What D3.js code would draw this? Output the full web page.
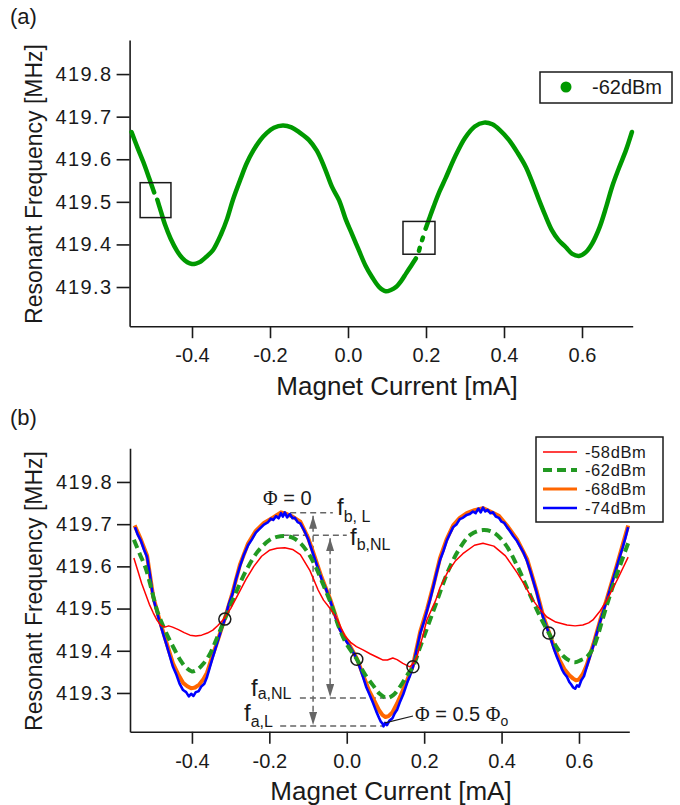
<!DOCTYPE html>
<html>
<head>
<meta charset="utf-8">
<script src="https://cdn.jsdelivr.net/npm/d3@7"></script>
<style>
  body { margin: 0; background: #fff; }
  svg text { font-family: "Liberation Sans", Arial, sans-serif; fill: #1a1a1a; }
</style>
</head>
<body>
<svg id="chart" width="680" height="805"></svg>
<script>
// ---------- data ----------
var xDomain = [-0.56, 0.73],
  yDomain = [419.208, 419.88],
  xTicks = [-0.4, -0.2, 0, 0.2, 0.4, 0.6],
  yTicks = [419.3, 419.4, 419.5, 419.6, 419.7, 419.8];

// panel (a): -62dBm sweep, null = gap in the trace
var sweepA = [
  [-0.555,419.664],[-0.54,419.628],[-0.525,419.594],[-0.51,419.556],[-0.497,419.522],null,
  [-0.489,419.505],[-0.48,419.478],[-0.469,419.446],[-0.455,419.414],[-0.4385,419.385],[-0.425,419.368],
  [-0.412,419.358],[-0.40,419.354],[-0.39,419.355],[-0.379,419.359],[-0.362,419.372],[-0.346,419.387],
  [-0.325,419.425],[-0.31,419.46],[-0.295,419.505],[-0.275,419.555],[-0.26,419.59],[-0.243,419.62],
  [-0.225,419.645],[-0.208,419.662],[-0.19,419.674],[-0.167,419.679],[-0.145,419.675],[-0.123,419.662],
  [-0.10,419.645],[-0.08,419.62],[-0.06,419.58],[-0.041,419.535],[-0.023,419.504],[-0.005,419.457],
  [0.01,419.425],[0.028,419.386],[0.045,419.35],[0.062,419.323],[0.08,419.30],[0.097,419.29],
  [0.11,419.293],[0.123,419.30],[0.137,419.315],[0.149,419.332],[0.162,419.35],[0.174,419.367],null,
  [0.182,419.385],[0.184,419.392],null,
  [0.19,419.41],[0.192,419.416],null,
  [0.199,419.437],[0.208,419.46],[0.22,419.49],[0.235,419.525],[0.25,419.555],[0.275,419.607],
  [0.30,419.65],[0.325,419.677],[0.349,419.686],[0.37,419.682],[0.39,419.668],[0.413,419.645],
  [0.435,419.615],[0.456,419.582],[0.475,419.54],[0.49,419.504],[0.505,419.47],[0.523,419.433],
  [0.54,419.41],[0.558,419.394],[0.575,419.378],[0.592,419.373],[0.61,419.382],[0.626,419.402],
  [0.645,419.44],[0.662,419.488],[0.677,419.535],[0.695,419.58],[0.713,419.622],[0.728,419.664]
];
// boxes in panel (a): [x0, x1, f0, f1]
var boxesA = [[-0.533, -0.454, 419.463, 419.545], [0.141, 0.223, 419.377, 419.454]];

// panel (b): four drive powers
var red58 = [
  [-0.55,419.62],[-0.54,419.59],[-0.53,419.56],[-0.52,419.535],[-0.51,419.51],[-0.50,419.49],
  [-0.49,419.472],[-0.48,419.46],[-0.47,419.456],[-0.46,419.459],[-0.45,419.456],[-0.435,419.45],
  [-0.42,419.443],[-0.405,419.437],[-0.39,419.435],[-0.375,419.437],[-0.36,419.442],[-0.346,419.449],
  [-0.333,419.46],[-0.32,419.473],[-0.30,419.50],[-0.28,419.535],[-0.26,419.57],[-0.24,419.60],
  [-0.22,419.624],[-0.20,419.638],[-0.18,419.643],[-0.16,419.644],[-0.14,419.64],[-0.12,419.628],
  [-0.095,419.59],[-0.074,419.544],[-0.06,419.52],[-0.043,419.50],[-0.025,419.475],[-0.005,419.435],
  [0.01,419.42],[0.025,419.41],[0.042,419.402],[0.06,419.393],[0.08,419.384],[0.094,419.378],
  [0.105,419.378],[0.119,419.383],[0.13,419.379],[0.145,419.37],[0.163,419.362],[0.172,419.37],
  [0.181,419.385],[0.195,419.43],[0.207,419.473],[0.23,419.52],[0.241,419.55],[0.26,419.585],
  [0.28,419.612],[0.30,419.63],[0.33,419.65],[0.352,419.655],[0.38,419.648],[0.41,419.625],
  [0.44,419.585],[0.46,419.555],[0.481,419.52],[0.50,419.497],[0.517,419.48],[0.54,419.468],
  [0.569,419.461],[0.59,419.459],[0.61,419.461],[0.625,419.466],[0.636,419.473],[0.655,419.495],
  [0.672,419.52],[0.70,419.57],[0.727,419.622]
];
var green62 = [
  [-0.55,419.663],[-0.535,419.63],[-0.52,419.597],[-0.505,419.548],[-0.49,419.495],[-0.475,419.46],
  [-0.46,419.43],[-0.445,419.403],[-0.43,419.378],[-0.415,419.36],[-0.40,419.351],[-0.385,419.356],
  [-0.37,419.37],[-0.355,419.39],[-0.34,419.42],[-0.315,419.475],[-0.29,419.53],[-0.26,419.59],
  [-0.23,419.635],[-0.20,419.662],[-0.18,419.67],[-0.16,419.672],[-0.14,419.668],[-0.12,419.655],
  [-0.10,419.632],[-0.08,419.598],[-0.06,419.555],[-0.04,419.51],[-0.02,419.455],[0.0,419.415],
  [0.026,419.38],[0.045,419.347],[0.068,419.318],[0.085,419.298],[0.104,419.288],[0.12,419.295],
  [0.137,419.314],[0.156,419.342],[0.171,419.362],[0.19,419.41],[0.21,419.46],[0.23,419.51],
  [0.26,419.585],[0.29,419.64],[0.32,419.675],[0.352,419.686],[0.38,419.68],[0.41,419.652],
  [0.44,419.602],[0.47,419.54],[0.50,419.48],[0.522,419.442],[0.54,419.412],[0.56,419.387],
  [0.575,419.377],[0.59,419.373],[0.605,419.378],[0.62,419.385],[0.636,419.405],[0.65,419.44],
  [0.662,419.478],[0.69,419.56],[0.727,419.655]
];
var orange68 = [
  [-0.548,419.697],[-0.532,419.664],[-0.516,419.626],[-0.50,419.528],[-0.484,419.474],[-0.466,419.42],
  [-0.449,419.37],[-0.436,419.345],[-0.423,419.324],[-0.412,419.316],[-0.402,419.311],[-0.392,419.313],
  [-0.381,419.32],[-0.37,419.333],[-0.361,419.348],[-0.348,419.385],[-0.335,419.42],[-0.315,419.477],
  [-0.295,419.538],[-0.276,419.604],[-0.255,419.654],[-0.235,419.684],[-0.214,419.703],[-0.19,419.716],
  [-0.17,419.728],[-0.155,419.724],[-0.14,419.718],[-0.12,419.706],[-0.10,419.668],[-0.087,419.634],
  [-0.065,419.574],[-0.043,419.523],[-0.018,419.453],[0.008,419.412],[0.026,419.382],[0.042,419.343],
  [0.058,419.305],[0.072,419.28],[0.083,419.26],[0.092,419.248],[0.10,419.243],[0.108,419.245],
  [0.118,419.254],[0.13,419.275],[0.142,419.30],[0.156,419.33],[0.171,419.365],[0.19,419.446],
  [0.208,419.50],[0.224,419.556],[0.241,419.62],[0.258,419.664],[0.275,419.697],[0.292,419.715],
  [0.31,419.726],[0.33,419.733],[0.352,419.738],[0.371,419.73],[0.393,419.72],[0.414,419.697],
  [0.44,419.664],[0.466,419.617],[0.491,419.54],[0.507,419.484],[0.522,419.445],[0.537,419.405],
  [0.55,419.378],[0.562,419.357],[0.575,419.342],[0.585,419.334],[0.592,419.33],[0.60,419.332],
  [0.61,419.345],[0.62,419.366],[0.637,419.415],[0.655,419.473],[0.672,419.523],[0.698,419.603],
  [0.727,419.697]
];
var blue74 = [
  [-0.547,419.693],[-0.54,419.675],[-0.532,419.661],[-0.524,419.64],[-0.516,419.622],[-0.508,419.577],
  [-0.50,419.524],[-0.492,419.498],[-0.484,419.47],[-0.475,419.442],[-0.466,419.415],[-0.458,419.39],
  [-0.449,419.362],[-0.44,419.343],[-0.432,419.322],[-0.423,419.307],[-0.415,419.302],[-0.408,419.292],
  [-0.402,419.298],[-0.396,419.293],[-0.39,419.302],[-0.383,419.304],[-0.376,419.315],[-0.368,419.322],
  [-0.361,419.338],[-0.354,419.36],[-0.347,419.382],[-0.341,419.40],[-0.335,419.418],[-0.325,419.447],
  [-0.315,419.475],[-0.305,419.51],[-0.295,419.535],[-0.286,419.57],[-0.276,419.60],[-0.266,419.627],
  [-0.255,419.65],[-0.245,419.664],[-0.235,419.68],[-0.224,419.69],[-0.214,419.699],[-0.204,419.704],
  [-0.196,419.713],[-0.19,419.71],[-0.183,419.719],[-0.176,419.714],[-0.17,419.726],[-0.165,419.718],
  [-0.16,419.728],[-0.154,419.716],[-0.147,419.724],[-0.14,419.714],[-0.134,419.715],[-0.127,419.705],
  [-0.12,419.702],[-0.11,419.685],[-0.10,419.665],[-0.087,419.63],[-0.076,419.60],[-0.065,419.57],
  [-0.054,419.547],[-0.043,419.52],[-0.03,419.482],[-0.018,419.45],[-0.005,419.428],[0.008,419.41],
  [0.017,419.396],[0.026,419.38],[0.034,419.36],[0.042,419.338],[0.05,419.315],[0.058,419.298],
  [0.068,419.276],[0.076,419.257],[0.083,419.242],[0.088,419.232],[0.092,419.228],[0.095,419.221],
  [0.099,419.229],[0.104,419.224],[0.11,419.234],[0.118,419.24],[0.124,419.252],[0.13,419.26],
  [0.138,419.28],[0.146,419.297],[0.156,419.324],[0.163,419.34],[0.171,419.362],[0.18,419.40],
  [0.19,419.442],[0.20,419.47],[0.208,419.497],[0.215,419.52],[0.224,419.553],[0.232,419.584],
  [0.241,419.615],[0.25,419.637],[0.258,419.66],[0.266,419.676],[0.275,419.693],[0.284,419.70],
  [0.292,419.712],[0.30,419.715],[0.31,419.722],[0.318,419.724],[0.326,419.73],[0.333,419.726],
  [0.34,419.737],[0.346,419.728],[0.352,419.739],[0.358,419.73],[0.364,419.734],[0.371,419.726],
  [0.378,419.728],[0.385,419.718],[0.393,419.715],[0.40,419.706],[0.407,419.703],[0.414,419.693],
  [0.422,419.683],[0.43,419.672],[0.44,419.66],[0.448,419.647],[0.456,419.634],[0.466,419.612],
  [0.474,419.59],[0.482,419.565],[0.491,419.537],[0.499,419.508],[0.507,419.48],[0.515,419.46],
  [0.522,419.442],[0.53,419.42],[0.537,419.40],[0.543,419.385],[0.55,419.37],[0.556,419.356],
  [0.562,419.346],[0.569,419.338],[0.575,419.326],[0.58,419.32],[0.585,419.313],[0.59,419.31],
  [0.595,419.318],[0.60,419.315],[0.606,419.33],[0.613,419.34],[0.62,419.362],[0.628,419.385],
  [0.637,419.412],[0.646,419.442],[0.655,419.47],[0.664,419.497],[0.672,419.52],[0.68,419.545],
  [0.689,419.572],[0.698,419.60],[0.706,419.625],[0.713,419.645],[0.72,419.668],[0.727,419.693]
];
var crossings = [[-0.315, 419.475], [0.026, 419.38], [0.171, 419.362], [0.522, 419.442]];

// dashed guides: [freq, xFrom, xTo] and arrows: [x, fTop, fBottom]
var guideLines = [[419.727, -0.172, -0.036], [419.674, -0.165, 0.0], [419.288, -0.121, 0.104], [419.222, -0.172, 0.094]];
var guideArrows = [[-0.087, 419.727, 419.222], [-0.043, 419.674, 419.288]];

var legendA = ['-62dBm'];
var legendB = ['-58dBm', '-62dBm', '-68dBm', '-74dBm'];

// ---------- drawing ----------
var svg = d3.select('#chart');
var ink = '#1a1a1a';
var fmt = function (d) { return d.toFixed(1); };

function makePanel(x0, x1, y0, y1) {
  return {
    x: d3.scaleLinear().domain(xDomain).range([x0, x1]),
    y: d3.scaleLinear().domain(yDomain).range([y1, y0])
  };
}
var pa = makePanel(129.6, 632.7, 40, 326.2);
var pb = makePanel(130, 629.3, 448.2, 731.8);

function drawAxes(p, xTitleX, xTitleY, yTitleY) {
  var gx = svg.append('g')
    .attr('transform', 'translate(0,' + p.y.range()[0] + ')')
    .call(d3.axisBottom(p.x).tickValues(xTicks).tickSize(12).tickSizeOuter(0).tickPadding(10).tickFormat(fmt));
  var gy = svg.append('g')
    .attr('transform', 'translate(' + p.x.range()[0] + ',0)')
    .call(d3.axisLeft(p.y).tickValues(yTicks).tickSize(13).tickSizeOuter(0).tickPadding(4).tickFormat(fmt));
  [gx, gy].forEach(function (g) {
    g.attr('font-family', null).attr('font-size', 20);
    g.selectAll('path, line').attr('stroke', ink).attr('stroke-width', 1.6);
    g.selectAll('text').attr('fill', ink);
  });
  gy.selectAll('text').attr('letter-spacing', 1.4);

  svg.append('text').attr('x', xTitleX).attr('y', xTitleY)
    .attr('text-anchor', 'middle').attr('font-size', 26)
    .text('Magnet Current [mA]');
  svg.append('text')
    .attr('transform', 'translate(42,' + yTitleY + ') rotate(-90)')
    .attr('text-anchor', 'middle').attr('font-size', 23)
    .text('Resonant Frequency [MHz]');
}

function lineFor(p, curve) {
  return d3.line().defined(function (d) { return d; })
    .x(function (d) { return p.x(d[0]); })
    .y(function (d) { return p.y(d[1]); })
    .curve(curve || d3.curveLinear);
}

// ----- panel (a) -----
svg.append('text').attr('x', 10).attr('y', 24).attr('font-size', 22).text('(a)');
drawAxes(pa, 397, 395, 184);

svg.append('path').datum(sweepA)
  .attr('d', lineFor(pa, d3.curveCatmullRom))
  .attr('fill', 'none').attr('stroke', '#009900')
  .attr('stroke-width', 4.5).attr('stroke-linecap', 'round').attr('stroke-linejoin', 'round');

svg.selectAll('rect.box').data(boxesA).enter().append('rect')
  .attr('class', 'box')
  .attr('x', function (d) { return pa.x(d[0]); })
  .attr('y', function (d) { return pa.y(d[3]); })
  .attr('width', function (d) { return pa.x(d[1]) - pa.x(d[0]); })
  .attr('height', function (d) { return pa.y(d[2]) - pa.y(d[3]); })
  .attr('fill', 'none').attr('stroke', ink).attr('stroke-width', 1.5);

var legA = svg.append('g');
legA.append('rect').attr('x', 540).attr('y', 72).attr('width', 132).attr('height', 31)
  .attr('fill', '#fff').attr('stroke', ink).attr('stroke-width', 1.5);
legA.append('circle').attr('cx', 566).attr('cy', 87).attr('r', 5.5).attr('fill', '#009900');
legA.append('text').attr('x', 592).attr('y', 94).attr('font-size', 20).text(legendA[0]);

// ----- panel (b) -----
svg.append('text').attr('x', 10).attr('y', 425).attr('font-size', 22).text('(b)');
drawAxes(pb, 391, 800, 591);

var defs = svg.append('defs');
defs.append('marker').attr('id', 'arr')
  .attr('viewBox', '0 0 10 10').attr('refX', 10).attr('refY', 5)
  .attr('markerUnits', 'userSpaceOnUse').attr('markerWidth', 13).attr('markerHeight', 8)
  .attr('preserveAspectRatio', 'none').attr('orient', 'auto-start-reverse')
  .append('path').attr('d', 'M0,0 L10,5 L0,10 Z').attr('fill', '#666');

var guide = svg.append('g').attr('stroke', '#666').attr('stroke-width', 1.5)
  .attr('stroke-dasharray', '6,4').attr('fill', 'none');
guide.selectAll('line.h').data(guideLines).enter().append('line')
  .attr('x1', function (d) { return pb.x(d[1]); })
  .attr('x2', function (d) { return pb.x(d[2]); })
  .attr('y1', function (d) { return pb.y(d[0]); })
  .attr('y2', function (d) { return pb.y(d[0]); });
guide.selectAll('line.v').data(guideArrows).enter().append('line')
  .attr('x1', function (d) { return pb.x(d[0]); })
  .attr('x2', function (d) { return pb.x(d[0]); })
  .attr('y1', function (d) { return pb.y(d[1]) + 3; })
  .attr('y2', function (d) { return pb.y(d[2]) - 1; })
  .attr('marker-start', 'url(#arr)').attr('marker-end', 'url(#arr)');

var traces = [
  {data: orange68, color: '#ff6600', w: 4, dash: null, curve: d3.curveLinear},
  {data: blue74, color: '#0000ff', w: 2.6, dash: null, curve: d3.curveLinear},
  {data: green62, color: '#229922', w: 4, dash: '9,5', curve: d3.curveCatmullRom},
  {data: red58, color: '#ff0000', w: 1.5, dash: null, curve: d3.curveLinear}
];
traces.forEach(function (t) {
  svg.append('path').datum(t.data)
    .attr('d', lineFor(pb, t.curve))
    .attr('fill', 'none').attr('stroke', t.color).attr('stroke-width', t.w)
    .attr('stroke-dasharray', t.dash).attr('stroke-linejoin', 'round');
});

svg.selectAll('circle.cross').data(crossings).enter().append('circle')
  .attr('class', 'cross')
  .attr('cx', function (d) { return pb.x(d[0]); })
  .attr('cy', function (d) { return pb.y(d[1]); })
  .attr('r', 6).attr('fill', 'none').attr('stroke', ink).attr('stroke-width', 1.5);

// frequency labels
function fLabel(x, y, sub, subDy) {
  var t = svg.append('text').attr('x', x).attr('y', y).attr('font-size', 24).text('f');
  t.append('tspan').attr('font-size', 16).attr('dy', subDy).text(sub);
}
fLabel(337, 515, 'b, L', 7);
fLabel(350, 545, 'b,NL', 5);
fLabel(251, 696, 'a,NL', 3);
fLabel(244, 721, 'a,L', 6);

var phi0 = svg.append('text').attr('x', 263).attr('y', 505).attr('font-size', 20);
phi0.append('tspan').attr('font-family', '"Liberation Serif", serif').text('Φ');
phi0.append('tspan').text(' = 0');

var phiH = svg.append('text').attr('x', 415).attr('y', 721).attr('font-size', 20);
phiH.append('tspan').attr('font-family', '"Liberation Serif", serif').text('Φ');
phiH.append('tspan').text(' = 0.5 ');
phiH.append('tspan').attr('font-family', '"Liberation Serif", serif').text('Φ');
phiH.append('tspan').attr('font-size', 14).attr('dy', 5).text('o');
svg.append('line')
  .attr('x1', pb.x(blue74[78][0])).attr('y1', pb.y(blue74[78][1]))
  .attr('x2', 413).attr('y2', 716)
  .attr('stroke', ink).attr('stroke-width', 1.2);

// legend (b)
var legB = svg.append('g');
legB.append('rect').attr('x', 536).attr('y', 437).attr('width', 127).attr('height', 85)
  .attr('fill', '#fff').attr('stroke', ink).attr('stroke-width', 1.5);
var legStyles = [traces[3], traces[2], traces[0], traces[1]];
var legRows = [452, 470, 489, 508];
legendB.forEach(function (name, i) {
  var s = legStyles[i];
  legB.append('line').attr('x1', 543).attr('x2', 577).attr('y1', legRows[i]).attr('y2', legRows[i])
    .attr('stroke', s.color).attr('stroke-width', s.dash ? 4 : (s.w > 3 ? 3 : s.w))
    .attr('stroke-dasharray', s.dash);
  legB.append('text').attr('x', 585).attr('y', legRows[i] + 6).attr('font-size', 16.5)
    .attr('letter-spacing', 0.6).text(name);
});
</script>
</body>
</html>
